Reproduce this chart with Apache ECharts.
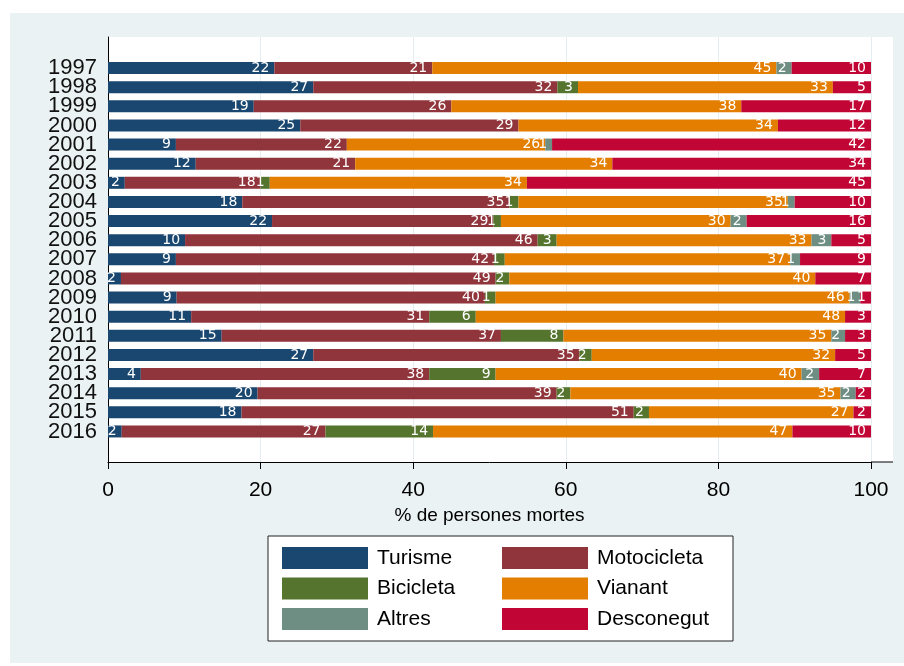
<!DOCTYPE html>
<html>
<head>
<meta charset="utf-8">
<script src="https://cdn.jsdelivr.net/npm/echarts@6/dist/echarts.min.js"></script>
<style>
  html, body { margin: 0; padding: 0; background: #fff; }
  #chart { width: 904px; height: 666px; }
</style>
</head>
<body>
<div id="chart"></div>
<script>
// anys i percentatges de persones mortes per tipus de vehicle
const years = ['1997', '1998', '1999', '2000', '2001', '2002', '2003', '2004', '2005', '2006',
  '2007', '2008', '2009', '2010', '2011', '2012', '2013', '2014', '2015', '2016']
const turisme = [21.8, 26.9, 19.1, 25.2, 8.9, 11.5, 2.2, 17.6, 21.5, 10.1, 8.9, 1.7, 9.0, 10.9, 14.9, 26.9, 4.3, 19.6, 17.5, 1.8]
const motocicleta = [20.7, 32.0, 25.9, 28.6, 22.4, 20.9, 17.8, 35.0, 29.0, 46.2, 41.7, 49.1, 40.4, 31.2, 36.6, 34.9, 37.8, 39.2, 51.4, 26.7]
const bicicleta = [0, 2.7, 0, 0, 0, 0, 1.2, 1.2, 1.0, 2.5, 1.4, 1.8, 1.4, 6.1, 8.2, 1.6, 8.7, 1.8, 2.0, 14.1]
const vianant = [45.1, 33.4, 38.0, 34.0, 26.0, 33.7, 33.7, 35.3, 30.1, 33.4, 37.4, 40.1, 46.4, 48.4, 35.1, 31.9, 40.1, 35.4, 26.8, 47.1]
const altres = [2.0, 0, 0, 0, 0.9, 0, 0, 0.9, 2.1, 2.6, 1.3, 0, 1.4, 0, 1.8, 0, 2.3, 2.0, 0, 0]
const desconegut = [10.4, 5.0, 17.0, 12.2, 41.8, 33.9, 45.1, 10.0, 16.3, 5.2, 9.3, 7.3, 1.4, 3.4, 3.4, 4.7, 6.8, 2.0, 2.3, 10.3]
const xTicks = [0, 20, 40, 60, 80, 100]

const seriesDefs = [
  { name: 'Turisme', data: turisme, color: '#1a476f' },
  { name: 'Motocicleta', data: motocicleta, color: '#90353b' },
  { name: 'Bicicleta', data: bicicleta, color: '#55752f' },
  { name: 'Vianant', data: vianant, color: '#e37e00' },
  { name: 'Altres', data: altres, color: '#6e8e84' },
  { name: 'Desconegut', data: desconegut, color: '#c10534' }
]

const font = 'Liberation Sans, Arial, sans-serif'
const chart = echarts.init(document.getElementById('chart'))

const legendBase = {
  orient: 'vertical',
  top: 542,
  itemWidth: 86,
  itemHeight: 22,
  itemGap: 8.5,
  icon: 'rect',
  textStyle: { fontSize: 21, color: '#000', padding: [0, 0, 0, 4], fontFamily: font }
}

chart.setOption({
  animation: false,
  backgroundColor: '#fff',
  textStyle: { fontFamily: font },
  graphic: [
    // fons del gràfic
    { type: 'rect', z: -10, shape: { x: 10, y: 13, width: 894, height: 650 }, style: { fill: '#eaf2f3' } },
    // zona del gràfic
    { type: 'rect', z: -9, shape: { x: 108, y: 37, width: 785, height: 425 }, style: { fill: '#fff' } },
    // marc de la llegenda
    { type: 'rect', z: -8, shape: { x: 268, y: 536, width: 465, height: 105 }, style: { fill: '#fff', stroke: '#222', lineWidth: 1 } },
    // prolongació de l'eix x
    { type: 'line', z: 5, shape: { x1: 871, y1: 462, x2: 893, y2: 462 }, style: { stroke: '#000', lineWidth: 1 } }
  ],
  legend: [
    Object.assign({}, legendBase, { left: 277, data: ['Turisme', 'Bicicleta', 'Altres'] }),
    Object.assign({}, legendBase, { left: 497, data: ['Motocicleta', 'Vianant', 'Desconegut'] })
  ],
  grid: [
    { left: 108, top: 37, width: 763, height: 425, containLabel: false },
    { left: 108, top: 58.5, width: 763, height: 382.5, containLabel: false }
  ],
  xAxis: [
    {
      gridIndex: 0,
      type: 'value',
      min: 0,
      max: 100,
      interval: 20,
      name: '% de persones mortes',
      nameLocation: 'middle',
      nameGap: 37,
      nameTextStyle: { fontSize: 19, color: '#000', fontFamily: font },
      axisLine: { show: true, lineStyle: { color: '#000', width: 1 } },
      axisTick: { show: true, length: 7, lineStyle: { color: '#000' } },
      axisLabel: {
        fontSize: 21,
        color: '#000',
        margin: 18,
        fontFamily: font,
        formatter: v => (xTicks.indexOf(v) >= 0 ? String(v) : '')
      },
      splitLine: { show: true, lineStyle: { color: '#e4eef0', width: 1 } }
    },
    {
      gridIndex: 1,
      type: 'value',
      min: 0,
      max: 100,
      show: false
    }
  ],
  yAxis: [
    {
      gridIndex: 0,
      type: 'value',
      axisLine: { show: true, onZero: false, lineStyle: { color: '#000', width: 1 } },
      axisTick: { show: false },
      axisLabel: { show: false },
      splitLine: { show: false }
    },
    {
      gridIndex: 1,
      type: 'category',
      inverse: true,
      data: years,
      axisLine: { show: false },
      axisTick: { show: false },
      axisLabel: { interval: 0, fontSize: 22, color: '#111', margin: 11, fontFamily: font },
      splitLine: { show: false }
    }
  ],
  series: seriesDefs.map(s => ({
    name: s.name,
    type: 'bar',
    stack: 'total',
    xAxisIndex: 1,
    yAxisIndex: 1,
    barWidth: 12,
    data: s.data,
    itemStyle: { color: s.color },
    label: {
      show: true,
      position: 'insideRight',
      distance: 5,
      color: '#fff',
      fontSize: 14,
      fontFamily: 'DejaVu Sans, sans-serif',
      formatter: p => (p.value > 0 ? String(Math.round(p.value)) : '')
    }
  }))
})
</script>
</body>
</html>
